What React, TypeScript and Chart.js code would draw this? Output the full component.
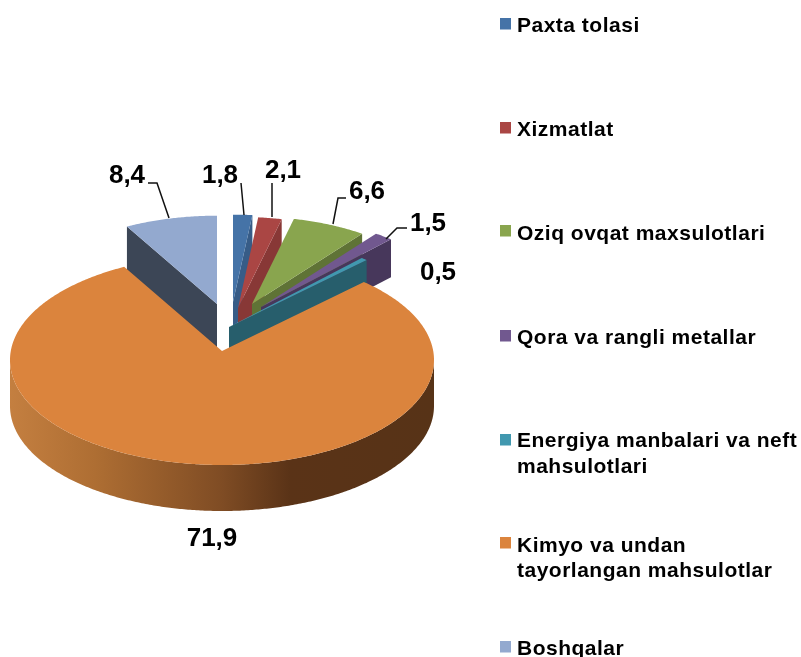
import React, { useEffect, useRef } from "react";
import { Chart, registerables } from "chart.js";

Chart.register(...registerables);

const categories = [
  "Paxta tolasi",
  "Xizmatlat",
  "Oziq ovqat maxsulotlari",
  "Qora va rangli metallar",
  "Energiya manbalari va neft mahsulotlari",
  "Kimyo va undan tayorlangan mahsulotlar",
  "Boshqalar",
];
const legendLines = [
  ["Paxta tolasi"],
  ["Xizmatlat"],
  ["Oziq ovqat maxsulotlari"],
  ["Qora va rangli metallar"],
  ["Energiya manbalari va neft", "mahsulotlari"],
  ["Kimyo va undan", "tayorlangan mahsulotlar"],
  ["Boshqalar"],
];
const values = [1.8, 2.1, 6.6, 1.5, 0.5, 71.9, 8.4];
const topColors = ["#4573A7", "#AA4644", "#89A54E", "#71588F", "#4198AF", "#DB843D", "#93A9CF"];
const sideColors = ["#375C87", "#883836", "#5F7336", "#47375B", "#275E6C", "#573317", "#3C4656"];

// Explosion of each slice from the pie centre, and its perspective shrink
const shiftX = [11, 16, 30, 39, 7, 0, -5];
const shiftY = [-49, -43, -47, -44, -24, 0, -47];
const shrink = [0.91, 0.95, 0.91, 0.95, 0.97, 1, 0.92];
const depth = [42, 42, 42, 38, 40, 46, 44];
const drawOrder = [6, 0, 1, 2, 3, 4, 5];

const SQUASH = 105 / 212;
const ELLIPSE_DROP = 9 / 212;
const DIR_X = 1.82;

const legendSwatchTop = [18, 122, 225, 330, 434, 537, 641];
const legendBaselines = [[32], [136], [240], [344], [447, 473], [552, 577], [655]];

const labelPos = [
  [220, 183],
  [283, 178],
  [367, 199],
  [428, 231],
  [438, 280],
  [212, 546],
  [127, 183],
];
const leaders: number[][][] = [
  [[241, 183], [244, 215]],
  [[272, 183], [272, 217]],
  [[346, 198], [338, 198], [333, 224]],
  [[407, 228], [397, 228], [386, 239]],
  [],
  [],
  [[148, 183], [157, 183], [169, 218]],
];

function rimPoint(ax: number, ay: number, R: number, theta: number) {
  const rx = R;
  const ry = R * SQUASH;
  const drop = R * ELLIPSE_DROP;
  const dx = Math.sin(theta) * DIR_X;
  const dy = -Math.cos(theta);
  const A = (dx * dx) / (rx * rx) + (dy * dy) / (ry * ry);
  const B = (2 * dy * -drop) / (ry * ry);
  const C = (drop * drop) / (ry * ry) - 1;
  const t = (-B + Math.sqrt(B * B - 4 * A * C)) / (2 * A);
  return { x: ax + dx * t, y: ay + dy * t };
}

const pie3d = {
  id: "pie3d",
  beforeDatasetDraw(chart: any) {
    const ctx = chart.ctx as CanvasRenderingContext2D;
    const arcs = chart.getDatasetMeta(0).data as any[];
    for (const i of drawOrder) {
      const arc = arcs[i];
      const a0 = arc.startAngle + Math.PI / 2;
      const a1 = arc.endAngle + Math.PI / 2;
      const ax = arc.x + shiftX[i];
      const ay = arc.y + shiftY[i];
      const R = arc.outerRadius * shrink[i];
      const d = depth[i];
      const steps = Math.max(6, Math.ceil((a1 - a0) / 0.01));
      const pts: { x: number; y: number }[] = [];
      for (let s = 0; s <= steps; s++) {
        pts.push(rimPoint(ax, ay, R, a0 + ((a1 - a0) * s) / steps));
      }
      ctx.save();
      ctx.fillStyle = sideColors[i];
      // cut faces turned towards the viewer
      const face = (p: { x: number; y: number }) => {
        ctx.beginPath();
        ctx.moveTo(ax, ay);
        ctx.lineTo(p.x, p.y);
        ctx.lineTo(p.x, p.y + d);
        ctx.lineTo(ax, ay + d);
        ctx.closePath();
        ctx.fill();
      };
      if (Math.sin(a0) < -0.001) face(pts[0]);
      if (Math.sin(a1) > 0.001) face(pts[pts.length - 1]);
      // outer wall: only the front half of the ellipse
      const cy = ay + R * ELLIPSE_DROP;
      const front = pts.filter((p) => p.y >= cy - 0.5);
      if (front.length > 1) {
        const g = ctx.createLinearGradient(arc.x - R, 0, arc.x + R, 0);
        g.addColorStop(0, "#C47F40");
        g.addColorStop(0.2, "#AE6E33");
        g.addColorStop(0.5, "#7F4C24");
        g.addColorStop(0.66, "#5A3317");
        g.addColorStop(1, "#573317");
        ctx.fillStyle = g;
        ctx.beginPath();
        front.forEach((p, k) => (k ? ctx.lineTo(p.x, p.y) : ctx.moveTo(p.x, p.y)));
        for (let k = front.length - 1; k >= 0; k--) ctx.lineTo(front[k].x, front[k].y + d);
        ctx.closePath();
        ctx.fill();
      }
      // top face
      ctx.fillStyle = topColors[i];
      ctx.beginPath();
      ctx.moveTo(ax, ay);
      pts.forEach((p) => ctx.lineTo(p.x, p.y));
      ctx.closePath();
      ctx.fill();
      ctx.restore();
    }
    return false;
  },
  afterDraw(chart: any) {
    const ctx = chart.ctx as CanvasRenderingContext2D;
    ctx.save();
    ctx.textBaseline = "alphabetic";
    // leader lines
    ctx.strokeStyle = "#111111";
    ctx.lineWidth = 1.5;
    leaders.forEach((line) => {
      if (!line.length) return;
      ctx.beginPath();
      line.forEach(([x, y], k) => (k ? ctx.lineTo(x, y) : ctx.moveTo(x, y)));
      ctx.stroke();
    });
    // value labels
    ctx.fillStyle = "#000000";
    ctx.textAlign = "center";
    ctx.font = 'bold 26px "Liberation Sans", Arial, sans-serif';
    values.forEach((v, i) => {
      ctx.fillText(v.toFixed(1).replace(".", ","), labelPos[i][0], labelPos[i][1]);
    });
    // legend
    ctx.textAlign = "left";
    ctx.font = 'bold 21px "Liberation Sans", Arial, sans-serif';
    (ctx as any).letterSpacing = "0.5px";
    categories.forEach((_, i) => {
      ctx.fillStyle = topColors[i];
      ctx.fillRect(500, legendSwatchTop[i], 11, 11.5);
      ctx.fillStyle = "#000000";
      legendLines[i].forEach((line, k) => ctx.fillText(line, 517, legendBaselines[i][k]));
    });
    ctx.restore();
  },
};

export default function App() {
  const ref = useRef<HTMLCanvasElement>(null);
  useEffect(() => {
    const chart = new Chart(ref.current as HTMLCanvasElement, {
      type: "pie",
      data: {
        labels: categories,
        datasets: [{ data: values, backgroundColor: topColors, borderWidth: 0 }],
      },
      options: {
        animation: false,
        responsive: false,
        layout: { padding: { left: 10, right: 367, top: 139, bottom: 94 } },
        plugins: { legend: { display: false }, tooltip: { enabled: false }, title: { display: false } },
      },
      plugins: [pie3d],
    } as any);
    return () => chart.destroy();
  }, []);
  return (
    <canvas
      ref={ref}
      width={801}
      height={657}
      style={{ position: "absolute", left: 0, top: 0, width: 801, height: 657, display: "block" }}
    />
  );
}
